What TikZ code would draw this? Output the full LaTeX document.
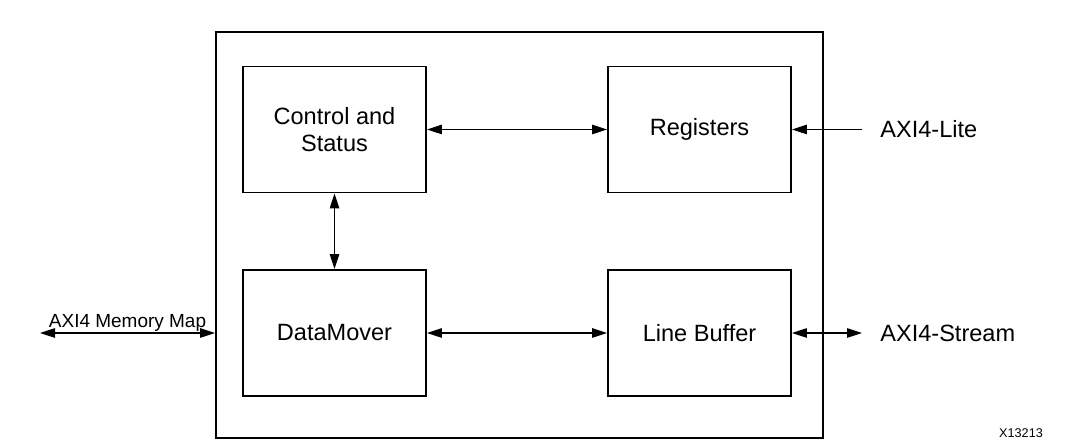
\documentclass[tikz,border=0pt]{standalone}
\usepackage{fontspec}
\setmainfont{Liberation Sans}
\usetikzlibrary{arrows.meta}
\begin{document}
\begin{tikzpicture}[
            block/.style={
                rectangle,
                draw,
                line width=1.1pt,
                minimum width=3.66cm,
                minimum height=2.52cm,
                align=center,
                font=\fontsize{13.4}{15.8}\selectfont
            },
            link/.style={
                line width=0.6pt,
                >={Triangle[length=3mm,width=1.9mm]}
            },
            port/.style={
                anchor=west,
                inner sep=0pt,
                font=\fontsize{13.4}{15.8}\selectfont
            }
        ]
            \useasboundingbox (0,0) rectangle (21.66,8.96);

            \node (core) [draw, line width=1.1pt, minimum width=12.14cm, minimum height=8.12cm] at (10.39,4.26) {};

            \node (ctrl) [block] at (6.69,6.37) {Control and\\Status};
            \node (regs) [block] at (13.99,6.37) {Registers};
            \node (dm) [block] at (6.69,2.30) {DataMover};
            \node (lb) [block] at (13.99,2.30) {Line Buffer};

            \coordinate (mm) at (0.8,2.30);
            \coordinate (lite) at (17.24,6.37);
            \coordinate (strm) at (17.24,2.30);

            \node (litetxt) [port] at (17.6,6.37) {AXI4-Lite};
            \node (strmtxt) [port] at (17.6,2.30) {AXI4-Stream};
            \node (code) [inner sep=0pt, font=\fontsize{7.2}{8}\selectfont] at (20.42,0.30) {X13213};

            \draw [link,<->] (ctrl) -- (regs);
            \draw [link,<->] (ctrl) -- (dm);
            \draw [link,<->] (dm) -- (lb);
            \draw [link,->] (lite) -- (regs);
            \draw [link,<->] (lb) -- (strm);
            \draw [link,<->] (mm) -- (mm -| core.west)
                node [midway, above, inner sep=0.8pt, font=\fontsize{10.8}{12}\selectfont] {AXI4 Memory Map};
        \end{tikzpicture}
\end{document}
